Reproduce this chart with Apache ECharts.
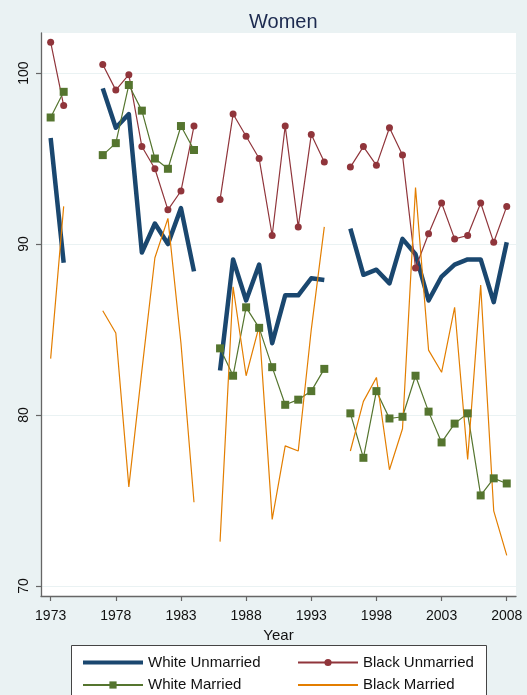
<!DOCTYPE html>
<html>
<head>
<meta charset="utf-8">
<script src="https://cdn.jsdelivr.net/npm/echarts@6/dist/echarts.min.js"></script>
<style>
html,body{margin:0;padding:0;background:#eaf2f3;}
#chart{width:527px;height:695px;}
</style>
</head>
<body>
<div id="chart"></div>
<script>
const years = [1973,1974,1975,1976,1977,1978,1979,1980,1981,1982,1983,1984,1985,1986,1987,1988,1989,1990,1991,1992,1993,1994,1995,1996,1997,1998,1999,2000,2001,2002,2003,2004,2005,2006,2007,2008];
const whiteUnmarried = [96.2,88.9,null,null,99.1,96.8,97.6,89.5,91.2,90.0,92.1,88.4,null,82.6,89.1,86.7,88.8,84.2,87.0,87.0,88.0,87.9,null,90.9,88.2,88.5,87.7,90.3,89.4,86.7,88.1,88.8,89.1,89.1,86.6,90.1];
const blackUnmarried = [101.8,98.1,null,null,100.5,99.0,99.9,95.7,94.4,92.0,93.1,96.9,null,92.6,97.6,96.3,95.0,90.5,96.9,91.0,96.4,94.8,null,94.5,95.7,94.6,96.8,95.2,88.6,90.6,92.4,90.3,90.5,92.4,90.1,92.2];
const whiteMarried = [97.4,98.9,null,null,95.2,95.9,99.3,97.8,95.0,94.4,96.9,95.5,null,83.9,82.3,86.3,85.1,82.8,80.6,80.9,81.4,82.7,null,80.1,77.5,81.4,79.8,79.9,82.3,80.2,78.4,79.5,80.1,75.3,76.3,76.0];
const blackMarried = [83.3,92.2,null,null,86.1,84.8,75.8,82.6,89.2,91.5,84.2,74.9,null,72.6,87.5,82.3,85.2,73.9,78.2,77.9,85.0,91.0,null,77.9,80.8,82.2,76.8,79.2,93.3,83.8,82.5,86.3,77.4,87.6,74.4,71.8];
const xTicks = [1973,1978,1983,1988,1993,1998,2003,2008];
const yTicks = [70,80,90,100];
const seriesNames = ['White Unmarried','Black Unmarried','White Married','Black Married'];

const pairs = arr => years.map((y,i) => [y, arr[i]]);
const FONT = '"Liberation Sans", Arial, sans-serif';
const noSym = {color: 'rgba(0,0,0,0)', opacity: 0, borderWidth: 0};
const legendText = {fontFamily: FONT, fontSize: 15, color: '#111'};

const chart = echarts.init(document.getElementById('chart'), null, {renderer:'canvas'});
chart.setOption({
  backgroundColor: '#eaf2f3',
  animation: false,
  textStyle: {fontFamily: FONT},
  title: {
    text: 'Women', left: 244, top: 7,
    textStyle: {fontFamily: FONT, fontSize: 20, fontWeight: 'normal', color: '#1c2a4f'}
  },
  grid: {left: 41, right: 11, top: 33, bottom: 99, show: true, backgroundColor: '#ffffff', borderWidth: 0},
  xAxis: {
    type: 'value', min: 1972.26, max: 2008.71,
    name: 'Year', nameLocation: 'middle', nameGap: 23,
    nameTextStyle: {fontFamily: FONT, fontSize: 15, color: '#111'},
    axisLine: {show: true, onZero: false, lineStyle: {color: '#666', width: 1.3}},
    axisTick: {show: true, length: 5, customValues: xTicks, lineStyle: {color: '#666', width: 1.2}},
    axisLabel: {customValues: xTicks, margin: 13, fontSize: 14, color: '#111', fontFamily: FONT,
      formatter: v => String(v)},
    splitLine: {show: false}
  },
  yAxis: {
    type: 'value', min: 69.42, max: 102.34,
    axisLine: {show: true, onZero: false, lineStyle: {color: '#666', width: 1.3}},
    axisTick: {show: true, length: 5, customValues: yTicks, lineStyle: {color: '#666', width: 1.2}},
    axisLabel: {customValues: yTicks, rotate: 90, margin: 10, fontSize: 14, color: '#111', fontFamily: FONT},
    splitLine: {show: true, lineStyle: {color: '#eaf2f3', width: 1.2}}
  },
  legend: [
    {
      data: [{name: seriesNames[0], itemStyle: noSym, lineStyle: {width: 4}}, {name: seriesNames[2]}],
      orient: 'vertical', left: 76, top: 650, height: 120,
      itemWidth: 60, itemHeight: 9, itemGap: 7.5, z: 10,
      textStyle: legendText
    },
    {
      data: [{name: seriesNames[1]}, {name: seriesNames[3], itemStyle: noSym}],
      orient: 'vertical', left: 292, top: 650, height: 120,
      itemWidth: 60, itemHeight: 9, itemGap: 7.5, z: 10,
      textStyle: legendText
    }
  ],
  graphic: [{
    type: 'rect', z: 1,
    shape: {x: 71.5, y: 645.5, width: 415, height: 70},
    style: {fill: '#ffffff', stroke: '#444', lineWidth: 1}
  }],
  series: [
    {
      name: seriesNames[0], type: 'line', data: pairs(whiteUnmarried), connectNulls: false,
      showSymbol: false, symbol: 'none',
      lineStyle: {color: '#1a476f', width: 4.5, join: 'round'}, itemStyle: {color: '#1a476f'}
    },
    {
      name: seriesNames[1], type: 'line', data: pairs(blackUnmarried), connectNulls: false,
      symbol: 'circle', symbolSize: 7,
      lineStyle: {color: '#90353b', width: 1.2}, itemStyle: {color: '#90353b'}
    },
    {
      name: seriesNames[2], type: 'line', data: pairs(whiteMarried), connectNulls: false,
      symbol: 'rect', symbolSize: 8,
      lineStyle: {color: '#55752f', width: 1.2}, itemStyle: {color: '#55752f'}
    },
    {
      name: seriesNames[3], type: 'line', data: pairs(blackMarried), connectNulls: false,
      showSymbol: false, symbol: 'none',
      lineStyle: {color: '#e37e00', width: 1.2}, itemStyle: {color: '#e37e00'}
    }
  ]
});
</script>
</body>
</html>
